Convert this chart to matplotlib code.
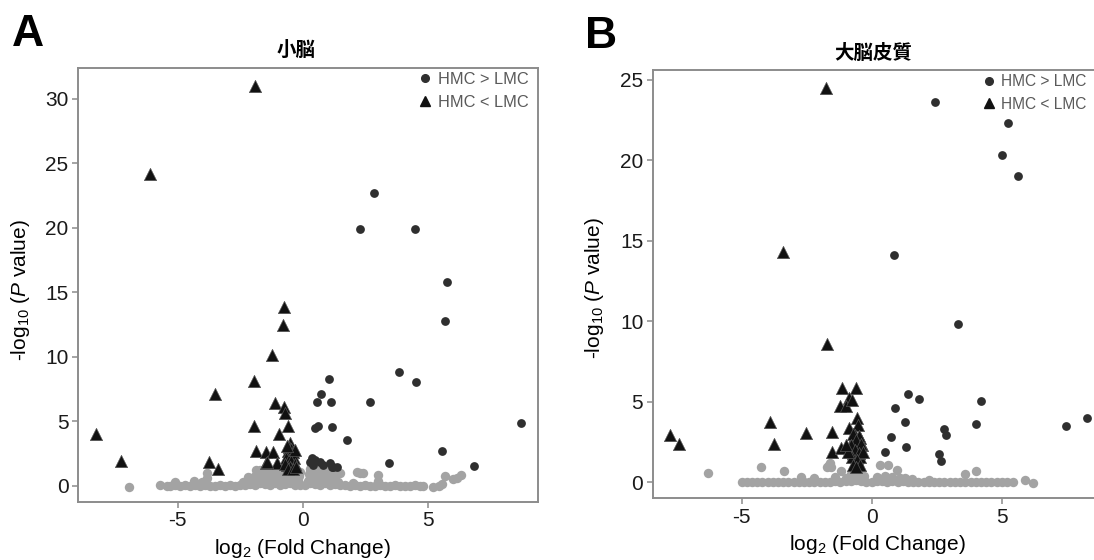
import matplotlib
matplotlib.use("Agg")
import matplotlib.pyplot as plt
from matplotlib.lines import Line2D

plt.rcParams['font.family'] = ['Liberation Sans', 'Noto Sans CJK JP', 'DejaVu Sans']
plt.rcParams['axes.unicode_minus'] = False
plt.rcParams['mathtext.fontset'] = 'custom'
plt.rcParams['mathtext.rm'] = 'Liberation Sans'
plt.rcParams['mathtext.it'] = 'Liberation Sans:italic'

# ---------------- A : 小脳 ----------------
a_up_x = [2.86, 2.29, 4.50, 5.78, 5.70, 3.84, 4.53, 1.05, 0.72, 0.59, 1.15, 2.68,
          0.48, 0.63, 1.19, 1.78, 3.44, 5.58, 6.87, 8.73,
          0.36, 0.49, 0.69, 0.80, 1.09, 1.36, 1.16, 0.42, 0.29, 1.23]
a_up_y = [22.7, 19.9, 19.9, 15.8, 12.8, 8.84, 8.04, 8.3, 7.13, 6.51, 6.51, 6.51,
          4.5, 4.67, 4.57, 3.57, 1.81, 2.71, 1.55, 4.88,
          2.15, 2.02, 1.89, 1.63, 1.76, 1.5, 1.5, 1.63, 1.89, 1.5]

a_down_x = [-1.91, -6.10, -8.28, -7.28, -3.51, -3.77, -3.40, -1.95, -1.95, -1.88,
            -1.48, -1.18, -1.48, -1.02, -1.23, -1.11, -0.95, -0.74, -0.79, -0.74,
            -0.71, -0.58, -1.44, -0.64,
            -0.50, -0.55, -0.45, -0.60, -0.40, -0.50, -0.65, -0.35, -0.55, -0.45,
            -0.70, -0.30, -0.50, -0.60, -0.40, -0.30, -0.25, -0.62]
a_down_y = [31.0, 24.2, 4.03, 1.94, 7.13, 1.84, 1.29, 8.14, 4.68, 2.71,
            2.66, 2.66, 1.81, 1.76, 10.16, 6.41, 4.0, 13.85, 12.48, 6.15,
            5.63, 4.65, 1.89, 1.63,
            3.3, 3.0, 2.9, 2.7, 2.6, 2.4, 2.2, 2.2, 2.0, 1.9,
            1.7, 1.7, 1.5, 1.35, 1.35, 2.8, 1.5, 3.1]

a_ns_x = [-6.97, -5.71, -5.44, -5.11, -4.37, -3.84, -3.84, -4.04, -2.18, -1.71,
          -5.3, -5.1, -4.9, -4.7, -4.5, -4.3, -4.1, -3.9, -3.7, -3.5, -3.3, -3.1,
          -2.9, -2.7, -2.5, -2.3, -2.1, -1.9, -1.7, -1.5, -1.3, -1.1, -0.9, -0.7,
          -0.5, -0.3, -0.1, 0.1, 0.3, 0.5, 0.7, 0.9, 1.1, 1.3, 1.5, 1.7, 1.9,
          2.1, 2.3, 2.5, 2.7, 2.9, 3.1, 3.3, 3.5, 3.7, 3.9, 4.1, 4.3, 4.5, 4.7, 4.83,
          -2.4, -2.2, -2.0, -1.9, -1.8, -1.6, -1.5, -1.4, -1.3, -1.2, -1.1, -1.0,
          -0.9, -0.8, -0.7, -0.6, -0.5, -0.4, -0.3, -0.2, -1.7, -1.0, -0.5,
          -2.1, -1.95, -1.75, -1.55, -1.35, -1.15, -0.95, -0.75, -0.55, -0.35, -0.15,
          -1.85, -1.25, -0.85, -0.45, -0.25, -0.6, -0.1,
          0.2, 0.25, 0.3, 0.4, 0.5, 0.6, 0.7, 0.8, 0.9, 1.0, 1.1, 1.2, 1.3, 1.5, 1.4,
          0.35, 0.55, 0.75, 0.95, 1.15, 0.3, 0.65, 1.05, 1.3,
          2.16, 2.42, 2.3, 3.0, 3.0, 2.0, 5.2, 5.58, 5.69, 6.03, 6.16, 6.33, 5.45]
a_ns_y = [-0.05, 0.08, 0.0, 0.29, 0.39, 1.03, 0.6, 0.33, 0.67, 1.24,
          0.0, 0.05, 0.0, 0.1, 0.0, 0.05, 0.0, 0.1, 0.0, 0.0, 0.05, 0.0,
          0.1, 0.0, 0.05, 0.1, 0.15, 0.1, 0.2, 0.15, 0.1, 0.2, 0.1, 0.15,
          0.2, 0.1, 0.05, 0.1, 0.2, 0.15, 0.1, 0.2, 0.1, 0.15, 0.1, 0.05, 0.0,
          0.05, 0.0, 0.05, 0.0, 0.0, 0.05, 0.0, 0.0, 0.05, 0.0, 0.0, 0.0, 0.05, 0.0, 0.0,
          0.3, 0.5, 0.4, 0.8, 1.1, 1.15, 0.9, 1.2, 0.7, 1.0, 0.5, 1.1,
          0.8, 1.2, 0.6, 1.0, 1.3, 0.7, 1.1, 0.5, 0.5, 0.3, 0.3,
          0.6, 0.3, 0.8, 0.5, 0.9, 0.7, 0.4, 0.9, 0.6, 0.5, 0.8,
          1.2, 0.35, 1.0, 1.0, 0.3, 0.55, 1.1,
          0.4, 0.9, 1.3, 0.6, 1.1, 0.4, 0.9, 1.2, 0.5, 0.8, 1.1, 0.4, 0.7, 0.98, 0.3,
          1.45, 1.3, 0.6, 1.3, 0.6, 0.7, 0.7, 0.35, 1.2,
          1.1, 0.98, 1.0, 0.85, 0.4, 0.2, -0.05, 0.15, 0.78, 0.52, 0.64, 0.85, 0.0]

# ---------------- B : 大脳皮質 ----------------
b_up_x = [2.42, 5.23, 5.02, 5.62, 0.85, 3.33, 1.41, 1.82, 0.90, 4.19, 1.28, 4.01,
          2.78, 2.86, 0.74, 1.31, 0.51, 2.59, 2.67, 7.47, 8.27]
b_up_y = [23.6, 22.3, 20.3, 19.0, 14.1, 9.85, 5.5, 5.17, 4.61, 5.05, 3.75, 3.62,
          3.31, 2.94, 2.81, 2.21, 1.88, 1.76, 1.32, 3.5, 4.01]

b_down_x = [-1.74, -3.40, -1.70, -7.77, -7.41, -3.91, -3.75, -2.51, -1.52, -1.54,
            -1.19, -1.15, -0.59, -0.87, -1.23, -1.00, -0.55, -0.52, -0.87, -0.77,
            -0.64, -0.45, -0.77, -0.58, -0.38, -0.71, -0.45, -0.64,
            -0.70, -0.50, -0.60, -0.80, -0.40, -0.65, -0.50, -0.75, -0.35, -0.55,
            -0.70, -0.45, -0.60, -0.90, -1.00]
b_down_y = [24.5, 14.3, 8.57, 2.94, 2.38, 3.77, 2.36, 3.04, 3.14, 1.86,
            2.11, 5.84, 5.84, 5.22, 4.74, 4.74, 3.98, 3.56, 3.35, 5.11,
            2.94, 2.73, 2.52, 2.21, 2.32, 1.80, 1.59, 1.28,
            3.0, 2.9, 2.6, 2.3, 2.4, 2.0, 1.8, 1.6, 1.9, 1.4,
            1.1, 1.1, 0.95, 1.9, 2.3]

b_ns_x = [-6.28, -4.27, -3.37, -2.73, -1.64, -1.55, -1.70, -1.60, -1.19, -1.40,
          -1.00, -0.80, -0.60, -0.50, -0.45, -0.30, -0.65, -2.20,
          0.32, 0.64, 0.96, 0.20, 0.50, 0.80, 1.10, 1.30, 1.55, 2.20,
          3.59, 4.01, 5.90, 6.19,
          -4.98, -4.8, -4.6, -4.4, -4.2, -4.0, -3.8, -3.6, -3.4, -3.2, -3.0,
          -2.8, -2.6, -2.4, -2.2, -2.0, -1.8, -1.6, -1.4, -1.2, -1.0, -0.8,
          -0.6, -0.4, -0.2, 0.0, 0.2, 0.4, 0.6, 0.8, 1.0, 1.2, 1.4, 1.6, 1.8,
          2.0, 2.2, 2.4, 2.6, 2.8, 3.0, 3.2, 3.4, 3.6, 3.8, 4.0, 4.2, 4.4,
          4.6, 4.8, 5.0, 5.2, 5.45]
b_ns_y = [0.56, 0.97, 0.70, 0.35, 1.07, 0.95, 0.95, 1.2, 0.72, 0.35,
          0.3, 0.5, 0.9, 1.2, 0.7, 0.4, 0.4, 0.3,
          1.07, 1.07, 0.76, 0.35, 0.4, 0.35, 0.3, 0.3, 0.2, 0.15,
          0.52, 0.72, 0.14, -0.06,
          0.0, 0.0, 0.05, 0.0, 0.0, 0.05, 0.0, 0.0, 0.05, 0.0, 0.0,
          0.0, 0.05, 0.0, 0.0, 0.05, 0.0, 0.05, 0.1, 0.05, 0.1, 0.1,
          0.15, 0.1, 0.05, 0.0, 0.1, 0.1, 0.05, 0.1, 0.05, 0.1, 0.0, 0.05, 0.0,
          0.0, 0.05, 0.0, 0.0, 0.0, 0.0, 0.0, 0.0, 0.0, 0.0, 0.0, 0.0, 0.0,
          0.0, 0.0, 0.0, 0.0, 0.0]

legend_labels = ["HMC > LMC", "HMC < LMC"]

GREY = "#a3a3a3"
DARK = "#2f2f2f"
TRI = "#111111"
SPINE = "#8c8c8c"


def volcano(ax, ns_x, ns_y, up_x, up_y, down_x, down_y, xlim, ylim, yticks):
    ax.scatter(ns_x, ns_y, s=46, c=GREY, linewidths=0, zorder=1)
    ax.scatter(up_x, up_y, s=40, c=DARK, linewidths=0, zorder=2)
    ax.scatter(down_x, down_y, s=78, c=TRI, marker="^", edgecolors="#555555",
               linewidths=0.5, zorder=3)
    ax.set_xlim(*xlim)
    ax.set_ylim(*ylim)
    ax.set_xticks([-5, 0, 5])
    ax.set_yticks(yticks)
    for sp in ax.spines.values():
        sp.set_color(SPINE)
        sp.set_linewidth(1.4)
    ax.tick_params(colors=SPINE, labelcolor="#1a1a1a", labelsize=15,
                   length=4, width=1.1, pad=3)
    ax.set_xlabel("log$_2$ (Fold Change)", fontsize=15)
    ax.set_ylabel("-log$_{10}$ ($P$ value)", fontsize=15)
    ax.xaxis.label.set_verticalalignment("center")
    ax.yaxis.label.set_verticalalignment("center")


def add_legend(ax, x0, y0, fig, size):
    handles = [Line2D([], [], ls="none", marker="o", ms=5.5, color=DARK),
               Line2D([], [], ls="none", marker="^", ms=6.5, color=TRI)]
    leg = ax.legend(handles, legend_labels, loc="upper left", frameon=False,
                    bbox_to_anchor=(x0, y0), bbox_transform=fig.transFigure,
                    fontsize=size, handlelength=0.9, handletextpad=0.35,
                    labelspacing=0.5, borderpad=0, borderaxespad=0)
    for t in leg.get_texts():
        t.set_color("#5a5a5a")


fig = plt.figure(figsize=(10.94, 5.6), dpi=100)
W, H = 1094.0, 560.0

ax_a = fig.add_axes([78.3 / W, 1 - 501.7 / H, 460.1 / W, 433.4 / H])
volcano(ax_a, a_ns_x, a_ns_y, a_up_x, a_up_y, a_down_x, a_down_y,
        (-8.98, 9.43), (-1.22, 32.38), [0, 5, 10, 15, 20, 25, 30])
ax_a.xaxis.set_label_coords(0.486, -0.107)
ax_a.yaxis.set_label_coords(-0.125, 0.488)
add_legend(ax_a, 418 / W, 1 - 72 / H, fig, 11.8)

ax_b = fig.add_axes([653 / W, 1 - 498.3 / H, 447 / W, 428.3 / H])
volcano(ax_b, b_ns_x, b_ns_y, b_up_x, b_up_y, b_down_x, b_down_y,
        (-8.41, 8.78), (-0.99, 25.6), [0, 5, 10, 15, 20, 25])
ax_b.xaxis.set_label_coords(0.502, -0.108)
ax_b.yaxis.set_label_coords(-0.13, 0.49)
add_legend(ax_b, 982 / W, 1 - 74 / H, fig, 11.2)

# titles and panel letters
fig.text(296 / W, 1 - 50 / H, "小脳", ha="center", va="center", fontsize=14,
         fontweight="bold", family=["Noto Sans CJK JP", "DejaVu Sans"])
fig.text(873 / W, 1 - 53 / H, "大脳皮質", ha="center", va="center", fontsize=14,
         fontweight="bold", family=["Noto Sans CJK JP", "DejaVu Sans"])
fig.text(12 / W, 1 - 35 / H, "A", ha="left", va="center", fontsize=32, fontweight="bold")
fig.text(585 / W, 1 - 37 / H, "B", ha="left", va="center", fontsize=32, fontweight="bold")

plt.savefig("out.png", dpi=100)
